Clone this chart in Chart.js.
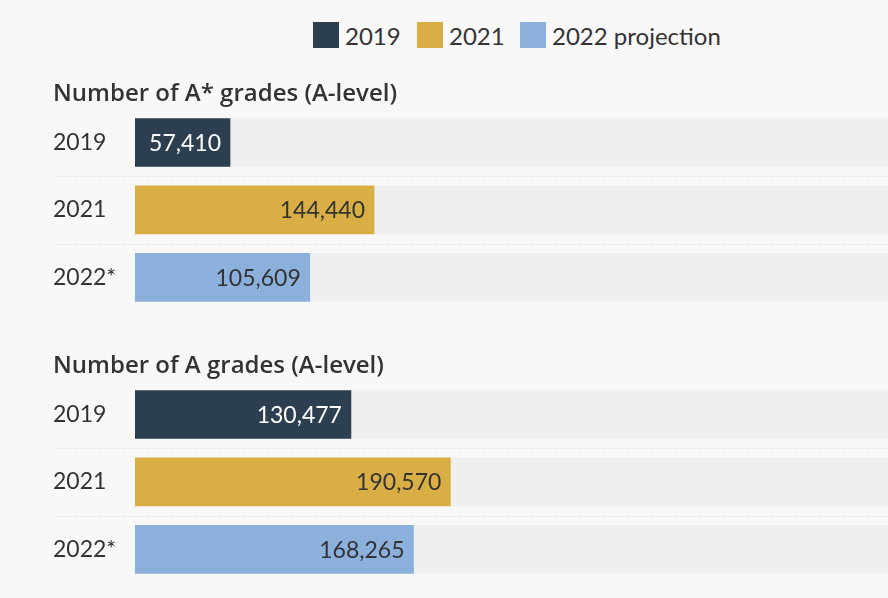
<!DOCTYPE html>
<html>
<head>
<meta charset="utf-8">
<script src="https://cdn.jsdelivr.net/npm/chart.js@4/dist/chart.umd.min.js"></script>
<style>
  html, body { margin: 0; padding: 0; background: #f8f8f8; }
  body { width: 888px; height: 598px; position: relative; overflow: hidden; font-family: Lato, "Open Sans", sans-serif; color: #333; }
  .legend-item { position: absolute; top: 21px; height: 28px; display: flex; align-items: center; font-size: 24px; }
  .legend-item i { display: inline-block; width: 26px; height: 26px; margin-right: 6px; }
  .panel { position: absolute; left: 0; width: 888px; height: 231px; }
</style>
</head>
<body>
<div id="legend"></div>
<div class="panel" style="top:80px"><canvas id="chart-astar"></canvas></div>
<div class="panel" style="top:352px"><canvas id="chart-a"></canvas></div>

<script>
// Data
const rowLabels = ['2019', '2021', '2022*'];
const legendLabels = ['2019', '2021', '2022 projection'];
const aStarGrades = [57410, 144440, 105609];
const aGrades = [130477, 190570, 168265];
const panelTitles = ['Number of A* grades (A-level)', 'Number of A grades (A-level)'];

const barColors = ['#2c3f50', '#d9ae45', '#8cb0dc'];
const valueColors = ['#ffffff', '#333333', '#333333'];
const trackColor = '#efefef';
const axisMax = 455000;

// Legend (plain html, placed like the original)
const legendLeft = [313, 417, 520];
const legendEl = document.getElementById('legend');
legendLabels.forEach((txt, i) => {
  const item = document.createElement('div');
  item.className = 'legend-item';
  item.style.left = legendLeft[i] + 'px';
  item.innerHTML = '<i style="background:' + barColors[i] + '"></i>' + txt;
  legendEl.appendChild(item);
});

// dotted lines between rows
const rowLines = {
  id: 'rowLines',
  beforeDatasetsDraw(chart) {
    const ctx = chart.ctx;
    const y = chart.scales.y;
    ctx.save();
    ctx.strokeStyle = '#d6d6d6';
    ctx.lineWidth = 1;
    ctx.setLineDash([1, 2]);
    for (let i = 0; i < rowLabels.length - 1; i++) {
      const py = Math.round(y.getPixelForValue(i + 0.5)) + 0.5;
      ctx.beginPath();
      ctx.moveTo(53, py);
      ctx.lineTo(chart.width, py);
      ctx.stroke();
    }
    ctx.restore();
  }
};

// value labels inside the end of each bar
const valueLabels = {
  id: 'valueLabels',
  afterDatasetsDraw(chart) {
    const ctx = chart.ctx;
    const meta = chart.getDatasetMeta(0);
    const values = chart.data.datasets[0].data;
    ctx.save();
    ctx.font = '23px Lato, "Open Sans", sans-serif';
    ctx.textAlign = 'right';
    ctx.textBaseline = 'middle';
    meta.data.forEach((bar, i) => {
      ctx.fillStyle = valueColors[i];
      ctx.fillText(values[i].toLocaleString('en-GB'), bar.x - 9, bar.y + 1);
    });
    ctx.restore();
  }
};

function makePanel(id, title, values) {
  return new Chart(document.getElementById(id), {
    type: 'bar',
    data: {
      labels: rowLabels,
      datasets: [
        {
          data: values,
          backgroundColor: barColors,
          barThickness: 48,
          grouped: false,
          order: 0
        },
        {
          data: rowLabels.map(() => axisMax),
          backgroundColor: trackColor,
          barThickness: 48,
          grouped: false,
          order: 1
        }
      ]
    },
    options: {
      indexAxis: 'y',
      responsive: true,
      maintainAspectRatio: false,
      animation: false,
      layout: { padding: { left: 53, right: 0, top: 0, bottom: 0 } },
      plugins: {
        legend: { display: false },
        tooltip: { enabled: false },
        title: {
          display: true,
          text: title,
          align: 'start',
          color: '#333',
          font: { family: '"Open Sans", Lato, sans-serif', size: 24, weight: '600' },
          padding: { top: 0, bottom: 0 }
        }
      },
      scales: {
        x: { display: false, min: 0, max: axisMax },
        y: {
          grid: { display: false },
          border: { display: false },
          ticks: {
            crossAlign: 'far',
            color: '#333',
            font: { family: 'Lato, "Open Sans", sans-serif', size: 23 }
          },
          afterFit(scale) {
            scale.width = 82;
            scale.paddingTop = 0;
            scale.paddingBottom = 0;
          }
        }
      }
    },
    plugins: [rowLines, valueLabels]
  });
}

makePanel('chart-astar', panelTitles[0], aStarGrades);
makePanel('chart-a', panelTitles[1], aGrades);
</script>
</body>
</html>
